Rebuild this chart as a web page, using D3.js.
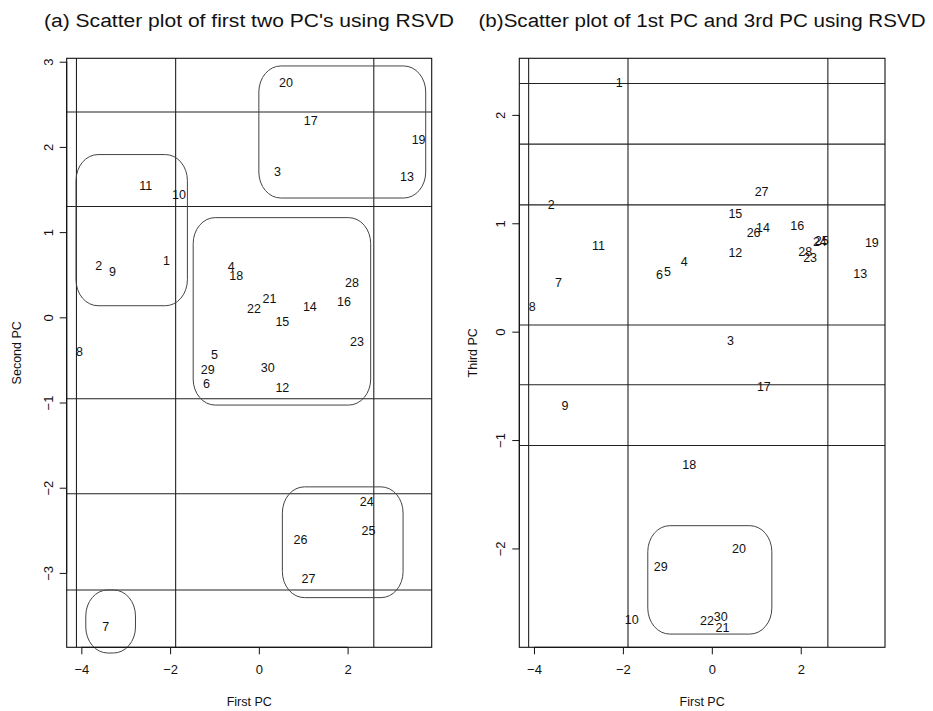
<!DOCTYPE html>
<html>
<head>
<meta charset="utf-8">
<script src="https://cdn.jsdelivr.net/npm/d3@7"></script>
<style>
  body { margin: 0; background: #fff; }
  text { font-family: "Liberation Sans", Arial, sans-serif; fill: #111; }
</style>
</head>
<body>
<script>
// observation ids and their scores on the first three PCs
const ids = d3.range(1, 31);
const firstPC = [-2.08, -3.61, 0.42, -0.62, -1.00, -1.18, -3.45, -4.04, -3.30, -1.80,
                 -2.55, 0.53, 3.34, 1.15, 0.53, 1.92, 1.17, -0.51, 3.60, 0.61,
                 0.24, -0.11, 2.21, 2.43, 2.47, 0.94, 1.12, 2.10, -1.15, 0.20];
const secondPC = [0.66, 0.61, 1.71, 0.59, -0.44, -0.78, -3.63, -0.40, 0.54, 1.44,
                  1.54, -0.82, 1.65, 0.12, -0.05, 0.19, 2.31, 0.49, 2.08, 2.76,
                  0.22, 0.10, -0.29, -2.16, -2.50, -2.61, -3.07, 0.41, -0.61, -0.59];
const thirdPC = [2.30, 1.17, -0.08, 0.65, 0.55, 0.53, 0.45, 0.23, -0.68, -2.66,
                 0.79, 0.73, 0.54, 0.96, 1.09, 0.98, -0.51, -1.23, 0.82, -2.00,
                 -2.73, -2.67, 0.68, 0.83, 0.84, 0.91, 1.29, 0.74, -2.17, -2.63];

const xTicks = [-4, -2, 0, 2];
const yTicksA = [-3, -2, -1, 0, 1, 2, 3];
const yTicksB = [-2, -1, 0, 1, 2];

// reference lines (abline) in data units
const vLinesA = [-4.11, -1.875, 2.59];
const hLinesA = [2.41, 1.30, -0.955, -2.07, -3.20];
const vLinesB = [-4.12, -1.885, 2.61];
const hLinesB = [2.29, 1.73, 1.17, 0.062, -0.49, -1.05];

// cluster outlines [x0, x1, y0, y1] in data units
const clustersA = [
  [0.0, 3.76, 1.40, 2.95],
  [-4.12, -1.61, 0.136, 1.91],
  [-1.48, 2.52, -1.03, 1.17],
  [0.53, 3.25, -3.29, -1.99],
  [-3.90, -2.78, -3.94, -3.20]
];
const clustersB = [
  [-1.44, 1.35, -2.79, -1.79]
];

const W = 933, H = 711;
const svg = d3.select('body').append('svg')
  .attr('width', W).attr('height', H);

function drawPanel(cfg) {
  const x = d3.scaleLinear().domain([-4.33, 3.895]).range([cfg.left, cfg.right]);
  const y = d3.scaleLinear().domain(cfg.yDomain).range([cfg.bottom, cfg.top]);
  const g = svg.append('g');

  // title
  g.append('text')
    .attr('x', cfg.titleX).attr('y', 27)
    .attr('text-anchor', 'middle')
    .attr('textLength', cfg.titleW)
    .attr('lengthAdjust', 'spacingAndGlyphs')
    .style('font-size', '18px')
    .text(cfg.title);

  // reference lines
  cfg.vLines.forEach(v => {
    g.append('line')
      .attr('x1', x(v)).attr('x2', x(v))
      .attr('y1', cfg.top).attr('y2', cfg.bottom)
      .attr('stroke', '#222').attr('stroke-width', 1.1);
  });
  cfg.hLines.forEach(h => {
    g.append('line')
      .attr('x1', cfg.left).attr('x2', cfg.right)
      .attr('y1', y(h)).attr('y2', y(h))
      .attr('stroke', '#222').attr('stroke-width', 1.1);
  });

  // plot box
  g.append('rect')
    .attr('x', cfg.left).attr('y', cfg.top)
    .attr('width', cfg.right - cfg.left).attr('height', cfg.bottom - cfg.top)
    .attr('fill', 'none').attr('stroke', '#111').attr('stroke-width', 1.1);

  // cluster outlines
  cfg.clusters.forEach(c => {
    const w = x(c[1]) - x(c[0]);
    const h = y(c[2]) - y(c[3]);
    g.append('rect')
      .attr('x', x(c[0])).attr('y', y(c[3]))
      .attr('width', w).attr('height', h)
      .attr('rx', Math.min(22, w / 2)).attr('ry', Math.min(26, h / 2))
      .attr('fill', 'none').attr('stroke', '#444').attr('stroke-width', 1);
  });

  // axes
  const xAxis = g.append('g')
    .attr('transform', 'translate(0,' + cfg.bottom + ')')
    .call(d3.axisBottom(x).tickValues(xTicks).tickSize(7).tickPadding(8).tickFormat(d3.format('d')));
  xAxis.select('.domain').attr('d', 'M' + x(xTicks[0]) + ',0H' + x(xTicks[xTicks.length - 1]));
  xAxis.selectAll('text').style('font-size', '13px').attr('dy', '0.9em');

  const yAxis = g.append('g')
    .attr('transform', 'translate(' + cfg.left + ',0)')
    .call(d3.axisLeft(y).tickValues(cfg.yTicks).tickSize(7).tickFormat(d3.format('d')));
  const yt = cfg.yTicks;
  yAxis.select('.domain').attr('d', 'M0,' + y(yt[0]) + 'V' + y(yt[yt.length - 1]));
  yAxis.selectAll('.tick text')
    .attr('x', null).attr('dy', null)
    .attr('text-anchor', 'middle')
    .attr('transform', 'translate(-14,0) rotate(-90)')
    .style('font-size', '13px');
  svg.selectAll('.domain, .tick line').attr('stroke', '#111');

  // axis titles
  g.append('text')
    .attr('x', (cfg.left + cfg.right) / 2).attr('y', 706)
    .attr('text-anchor', 'middle')
    .style('font-size', '12.5px')
    .text('First PC');
  g.append('text')
    .attr('transform', 'translate(' + cfg.yTitleX + ',' + ((cfg.top + cfg.bottom) / 2) + ') rotate(-90)')
    .attr('text-anchor', 'middle')
    .style('font-size', '12.5px')
    .text(cfg.yTitle);

  // observation labels
  g.selectAll('text.obs')
    .data(ids)
    .enter()
    .append('text')
    .attr('class', 'obs')
    .attr('x', (d, i) => x(firstPC[i]))
    .attr('y', (d, i) => y(cfg.yValues[i]))
    .attr('dy', '0.35em')
    .attr('text-anchor', 'middle')
    .style('font-size', '12.5px')
    .text(d => d);
}

drawPanel({
  title: "(a) Scatter plot of first two PC's using RSVD",
  titleX: 249, titleW: 410,
  left: 66.7, right: 431.7, top: 58.3, bottom: 647.3,
  yDomain: [-3.873, 3.04],
  yTicks: yTicksA,
  vLines: vLinesA, hLines: hLinesA,
  clusters: clustersA,
  yValues: secondPC,
  yTitle: 'Second PC', yTitleX: 21
});

drawPanel({
  title: '(b)Scatter plot of 1st PC and 3rd PC using RSVD',
  titleX: 702, titleW: 447,
  left: 519.3, right: 885, top: 58.3, bottom: 647.3,
  yDomain: [-2.912, 2.522],
  yTicks: yTicksB,
  vLines: vLinesB, hLines: hLinesB,
  clusters: clustersB,
  yValues: thirdPC,
  yTitle: 'Third PC', yTitleX: 477
});
</script>
</body>
</html>
